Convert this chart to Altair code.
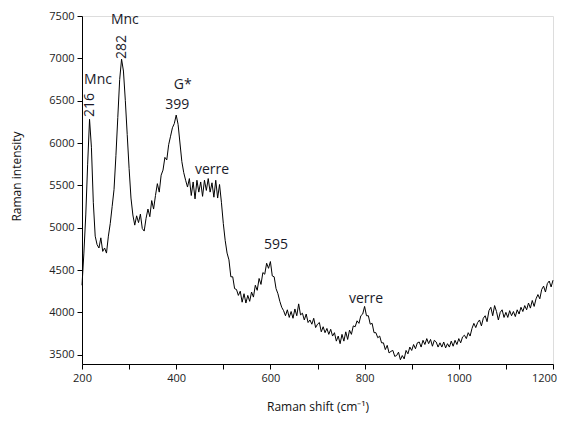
import altair as alt
import pandas as pd

shift = list(range(200, 1201, 4))
intensity = [
    # 200-248
    4320, 4700, 5150, 5750, 6280, 5950, 5300, 4900, 4800, 4760, 4880, 4720, 4760,
    # 252-300
    4700, 4900, 5050, 5250, 5450, 5850, 6300, 6750, 6990, 6850, 6500, 6100, 5700,
    # 304-348
    5350, 5150, 5030, 5140, 5060, 5160, 4990, 4960, 5110, 5220, 5130, 5320,
    # 352-396
    5220, 5380, 5520, 5420, 5620, 5680, 5830, 5800, 5980, 6080, 6180, 6230,
    # 400-496
    6330, 6220, 6000, 5780, 5650, 5560, 5480, 5580, 5380, 5540, 5340, 5560, 5420,
    5540, 5370, 5560, 5440, 5580, 5420, 5530, 5360, 5560, 5350, 5510, 5300,
    # 500-596
    5050, 4850, 4700, 4620, 4420, 4420, 4280, 4270, 4200, 4250, 4120, 4220, 4110,
    4200, 4130, 4240, 4180, 4320, 4260, 4400, 4330, 4470, 4450, 4580, 4520,
    # 600-676
    4600, 4430, 4420, 4280, 4220, 4130, 4060, 4020, 3960, 4030, 3940, 4010, 3930,
    4040, 3960, 4100, 3970, 3990, 3910, 3980,
    # 680-756
    3880, 3910, 3860, 3930, 3820, 3860, 3880, 3770, 3830, 3760, 3810, 3740, 3800,
    3720, 3760, 3660, 3720, 3630, 3740, 3660,
    # 760-796
    3770, 3680, 3790, 3740, 3840, 3830, 3900, 3870, 3960, 3980,
    # 800-876
    4070, 3960, 3960, 3860, 3870, 3760, 3760, 3700, 3720, 3640, 3640, 3560, 3610,
    3520, 3540, 3550, 3480, 3490, 3530, 3440,
    # 880-956
    3490, 3450, 3550, 3510, 3590, 3550, 3620, 3570, 3640, 3650, 3590, 3670, 3620,
    3690, 3630, 3680, 3600, 3670, 3650, 3590,
    # 960-1036
    3640, 3590, 3650, 3580, 3630, 3590, 3660, 3600, 3670, 3620, 3690, 3640, 3710,
    3730, 3690, 3760, 3720, 3810, 3870, 3820,
    # 1040-1116
    3880, 3910, 3840, 3930, 3960, 3890, 4020, 4060, 3960, 4080, 4010, 3910, 4000,
    4030, 3940, 4000, 3940, 4020, 3960, 4010,
    # 1120-1196
    3950, 4030, 3980, 4060, 4010, 4080, 4030, 4110, 4050, 4140, 4070, 4160, 4210,
    4160, 4270, 4310, 4240, 4340, 4370, 4300,
    # 1200
    4380,
]
assert len(shift) == len(intensity)

label_text = ["Mnc", "Mnc", "G*", "399", "verre", "595", "verre"]
label_x = [234, 291, 414, 402, 476, 612, 803]
label_y = [6745, 7453, 6686, 6450, 5684, 4800, 4163]

rot_text = ["216", "282"]
rot_x = [217, 285]
rot_y = [6450, 7135]

df = pd.DataFrame({"shift": shift, "intensity": intensity})
lab = pd.DataFrame({"t": label_text, "x": label_x, "y": label_y})
rot = pd.DataFrame({"t": rot_text, "x": rot_x, "y": rot_y})

FONT = "Open Sans"

xscale = alt.Scale(domain=[200, 1200], nice=False, zero=False)
yscale = alt.Scale(domain=[3390, 7500], nice=False, zero=False)

line = alt.Chart(df).mark_line(color="black", strokeWidth=1).encode(
    x=alt.X("shift:Q", scale=xscale,
            axis=alt.Axis(title="Raman shift (cm⁻¹)",
                          values=list(range(200, 1201, 100)),
                          format="d",
                          labelExpr="datum.value % 200 === 0 ? datum.label : ''",
                          labelFlush=False, labelOverlap=False,
                          labelOffset={"condition": {"test": "datum.value === 1200", "value": -9}, "value": 0},
                          grid=False, tickSize=5, domainColor="black", tickColor="black",
                          labelColor="#222", labelFont=FONT, labelFontSize=11,
                          labelPadding=3, titleFont=FONT, titleFontSize=12,
                          titleFontWeight="normal", titleColor="#111", titlePadding=18)),
    y=alt.Y("intensity:Q", scale=yscale,
            axis=alt.Axis(title="Raman intensity",
                          values=list(range(3500, 7501, 250)),
                          labelExpr="datum.value % 500 === 0 ? datum.label : ''",
                          format="d",
                          labelFlush=False, labelOverlap=False,
                          grid=False,
                          tickSize={"condition": {"test": "datum.value % 500 === 0", "value": 5}, "value": 3},
                          domainColor="black", tickColor="black",
                          labelColor="#222", labelFont=FONT, labelFontSize=11,
                          labelPadding=3, titleFont=FONT, titleFontSize=12,
                          titleFontWeight="normal", titleColor="#111",
                          titleX=-66, titleY=160, titleAngle=-90, titleBaseline="middle")),
)

texts = alt.Chart(lab).mark_text(font=FONT, fontSize=14, color="#1a1a2a").encode(
    x=alt.X("x:Q", scale=xscale), y=alt.Y("y:Q", scale=yscale), text="t:N"
)
rtexts = alt.Chart(rot).mark_text(font=FONT, fontSize=14, color="#1a1a2a", angle=270).encode(
    x=alt.X("x:Q", scale=xscale), y=alt.Y("y:Q", scale=yscale), text="t:N"
)

chart = alt.layer(line, texts, rtexts).properties(
    width=471, height=348,
    autosize=alt.AutoSizeParams(type="none"),
    padding={"left": 74, "top": 8, "right": 5, "bottom": 53},
).configure_view(stroke=None).configure(background="white")

chart.save("out.html", embed_options={"renderer": "svg", "actions": False})
